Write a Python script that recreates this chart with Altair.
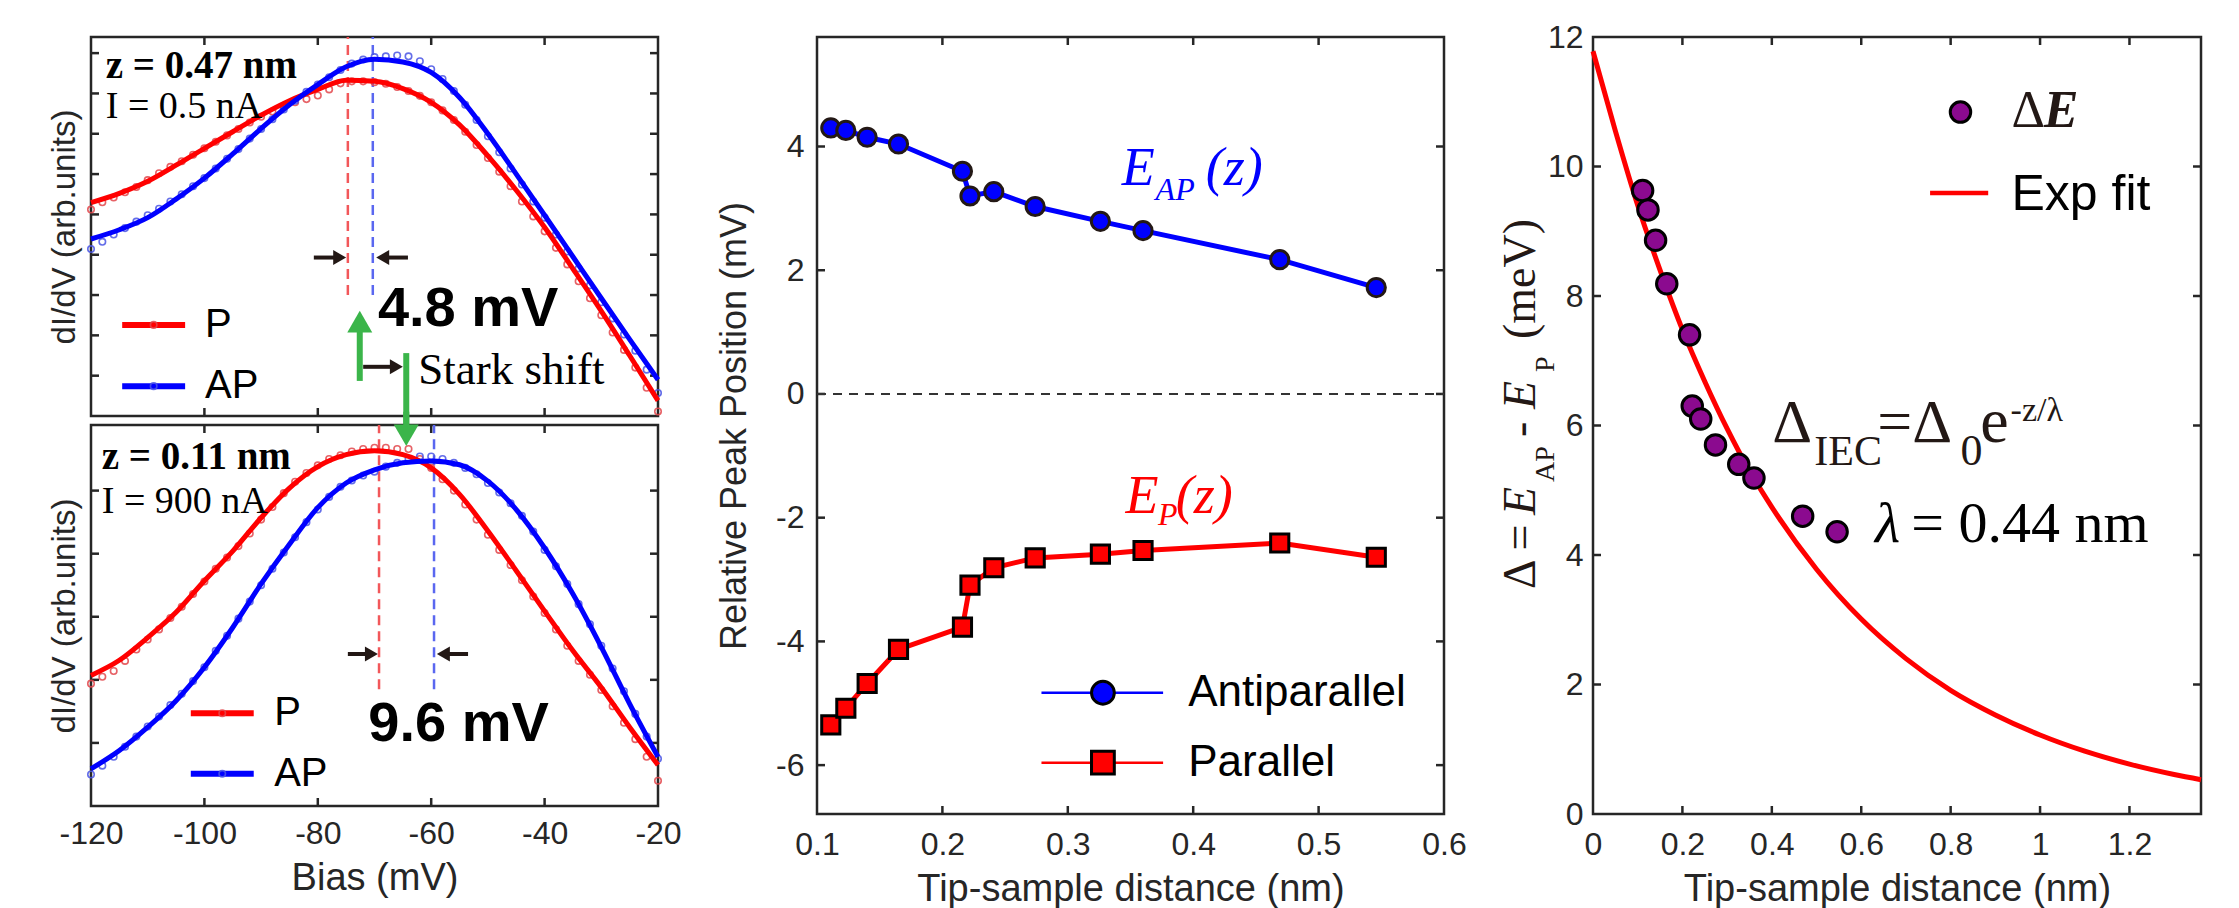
import altair as alt
import pandas as pd

SANS = "Liberation Sans"
SERIF = "Liberation Serif"
DARK = "#262626"
INK = "#231815"
RED = "#ff0000"
BLUE = "#0000ff"
RED_PT = "#e3474c"
BLUE_PT = "#4a55e6"
RED_DASH = "#f2575a"
BLUE_DASH = "#5a67f0"
GREEN = "#3bb54a"
PURPLE = "#8b0a8f"

# ---------------- left panels: dI/dV spectra ----------------
bias_fit = [-120, -115, -110, -105, -100, -95, -90, -85, -80, -75, -70,
            -65, -60, -55, -50, -45, -40, -35, -30, -25, -20]
top_p_fit = [5.29, 5.52, 5.82, 6.22, 6.64, 7.05, 7.46, 7.82, 8.10, 8.33, 8.30,
             8.12, 7.78, 7.22, 6.45, 5.60, 4.68, 3.65, 2.60, 1.50, 0.38]
top_ap_fit = [4.39, 4.62, 4.92, 5.38, 5.90, 6.50, 7.13, 7.72, 8.22, 8.66, 8.85,
              8.78, 8.52, 7.90, 7.00, 6.00, 4.98, 3.95, 2.92, 1.90, 0.90]
bot_p_fit = [2.07, 2.31, 2.67, 3.07, 3.57, 4.04, 4.57, 5.04, 5.38, 5.57, 5.63,
             5.57, 5.36, 4.94, 4.36, 3.73, 3.09, 2.46, 1.88, 1.25, 0.65]
bot_ap_fit = [0.59, 0.88, 1.25, 1.67, 2.20, 2.83, 3.52, 4.15, 4.73, 5.12, 5.33,
              5.44, 5.47, 5.41, 5.15, 4.70, 4.09, 3.36, 2.52, 1.62, 0.78]

bias_pts = [-120, -118, -116, -114, -112, -110, -108, -106, -104, -102,
            -100, -98, -96, -94, -92, -90, -88, -86, -84, -82,
            -80, -78, -76, -74, -72, -70, -68, -66, -64, -62,
            -60, -58, -56, -54, -52, -50, -48, -46, -44, -42,
            -40, -38, -36, -34, -32, -30, -28, -26, -24, -22, -20]
top_p_pts = [5.12, 5.30, 5.42, 5.55, 5.68, 5.85, 6.02, 6.18, 6.32, 6.48,
             6.64, 6.80, 6.96, 7.12, 7.28, 7.42, 7.55, 7.68, 7.78, 7.86,
             7.95, 8.10, 8.25, 8.30, 8.30, 8.28, 8.24, 8.16, 8.06, 7.94,
             7.78, 7.58, 7.34, 7.05, 6.72, 6.40, 6.06, 5.70, 5.32, 4.95,
             4.58, 4.17, 3.76, 3.34, 2.92, 2.50, 2.07, 1.64, 1.20, 0.70, 0.11]
top_ap_pts = [4.14, 4.32, 4.50, 4.66, 4.82, 4.98, 5.14, 5.32, 5.50, 5.70,
              5.90, 6.14, 6.38, 6.62, 6.88, 7.12, 7.36, 7.60, 7.82, 8.04,
              8.22, 8.40, 8.58, 8.74, 8.84, 8.90, 8.92, 8.94, 8.92, 8.80,
              8.60, 8.36, 8.06, 7.72, 7.34, 6.94, 6.54, 6.14, 5.74, 5.32,
              4.92, 4.50, 4.08, 3.66, 3.24, 2.82, 2.42, 2.02, 1.62, 1.15, 0.57]
bot_p_pts = [1.94, 2.05, 2.14, 2.30, 2.48, 2.64, 2.80, 2.98, 3.16, 3.36,
             3.56, 3.76, 3.94, 4.12, 4.32, 4.54, 4.74, 4.96, 5.14, 5.28,
             5.40, 5.50, 5.56, 5.62, 5.66, 5.68, 5.68, 5.66, 5.66, 5.50,
             5.36, 5.18, 5.00, 4.78, 4.54, 4.30, 4.06, 3.82, 3.58, 3.32,
             3.06, 2.80, 2.54, 2.30, 2.08, 1.84, 1.58, 1.32, 1.06, 0.78, 0.40]
bot_ap_pts = [0.50, 0.64, 0.78, 0.94, 1.10, 1.26, 1.42, 1.60, 1.78, 1.98,
              2.20, 2.46, 2.70, 2.97, 3.24, 3.50, 3.76, 4.02, 4.26, 4.50,
              4.70, 4.90, 5.06, 5.16, 5.24, 5.30, 5.38, 5.44, 5.50, 5.54,
              5.54, 5.50, 5.44, 5.36, 5.26, 5.12, 4.97, 4.80, 4.60, 4.35,
              4.06, 3.80, 3.52, 3.20, 2.88, 2.54, 2.18, 1.82, 1.46, 1.10, 0.75]

bias_ticks = [-120, -100, -80, -60, -40, -20]
bias_inner_ticks = [-100, -80, -60, -40]
top_y_ticks = [1, 2, 3, 4, 5, 6, 7, 8, 9]
bot_y_ticks = [1, 2, 3, 4, 5]

# ---------------- middle panel: peak positions ----------------
z_nm = [0.111, 0.123, 0.140, 0.165, 0.216, 0.222, 0.241, 0.274, 0.326, 0.360, 0.469, 0.546]
e_ap = [4.30, 4.26, 4.15, 4.04, 3.60, 3.20, 3.27, 3.03, 2.79, 2.64, 2.17, 1.72]
e_p = [-5.35, -5.08, -4.68, -4.13, -3.77, -3.09, -2.81, -2.65, -2.59, -2.53, -2.41, -2.64]
mid_x_ticks = [0.1, 0.2, 0.3, 0.4, 0.5, 0.6]
mid_y_ticks = [-6, -4, -2, 0, 2, 4]

# ---------------- right panel: splitting ----------------
delta_e = [9.63, 9.33, 8.86, 8.19, 7.40, 6.30, 6.10, 5.70, 5.40, 5.19, 4.60, 4.36]
fit_z = [0, 0.05, 0.1, 0.15, 0.2, 0.25, 0.3, 0.35, 0.4, 0.5, 0.6, 0.7, 0.8,
         0.9, 1.0, 1.1, 1.2, 1.3, 1.36]
fit_delta = [11.78, 10.55, 9.40, 8.40, 7.48, 6.68, 5.95, 5.30, 4.74, 3.78, 3.01,
             2.40, 1.91, 1.53, 1.22, 0.97, 0.77, 0.61, 0.53]
right_x_ticks = [0, 0.2, 0.4, 0.6, 0.8, 1, 1.2]
right_y_ticks = [0, 2, 4, 6, 8, 10, 12]

# ---------------- geometry ----------------
LW, TH, BH = 567, 379, 381
MW, MH = 627, 777
RW, RH = 608, 777
TICK = 8

AX_COMMON = dict(ticks=False, tickSize=0, domain=False, grid=False, labelFont=SANS,
                 titleFont=SANS, labelColor=DARK, titleColor=DARK, titleFontWeight="normal",
                 labelFlush=False, labelOverlap=False, labelBound=False)


def scales(xdom, ydom, xaxis=None, yaxis=None):
    xs = alt.Scale(domain=xdom, nice=False, zero=False)
    ys = alt.Scale(domain=ydom, nice=False, zero=False)

    def X(f):
        return alt.X(f, type="quantitative", scale=xs, axis=xaxis)

    def Y(f):
        return alt.Y(f, type="quantitative", scale=ys, axis=yaxis)
    return X, Y


def bounds_marks(xl, xr, ytop):
    """invisible markers that fix each panel's outer extent in the row layout"""
    d = pd.DataFrame({"a": [0]})
    return [alt.Chart(d).mark_rule(opacity=0, strokeWidth=1).encode(
                x=alt.value(xl), y=alt.value(ytop), y2=alt.value(ytop + 1)),
            alt.Chart(d).mark_rule(opacity=0, strokeWidth=1).encode(
                x=alt.value(xr), y=alt.value(ytop), y2=alt.value(ytop + 1))]


def frame_ticks(xvals, yvals, X, Y, W, H):
    dx = pd.DataFrame({"v": xvals})
    dy = pd.DataFrame({"v": yvals})
    r = dict(color=DARK, strokeWidth=2.5)
    return [
        alt.Chart(dx).mark_rule(**r).encode(x=X("v"), y=alt.value(H - TICK), y2=alt.value(H)),
        alt.Chart(dx).mark_rule(**r).encode(x=X("v"), y=alt.value(0), y2=alt.value(TICK)),
        alt.Chart(dy).mark_rule(**r).encode(y=Y("v"), x=alt.value(0), x2=alt.value(TICK)),
        alt.Chart(dy).mark_rule(**r).encode(y=Y("v"), x=alt.value(W - TICK), x2=alt.value(W)),
    ]


def label(text, x, y, X, Y, size, color=INK, font=SERIF, weight="normal",
          style="normal", align="left", baseline="alphabetic"):
    df = pd.DataFrame({"x": [x], "y": [y], "t": [text]})
    return alt.Chart(df).mark_text(font=font, fontSize=size, fontWeight=weight,
                                   fontStyle=style, color=color, align=align,
                                   baseline=baseline).encode(x=X("x"), y=Y("y"), text="t:N")


def seg(x1, x2, y1, y2, X, Y, color, width, dash=None):
    df = pd.DataFrame({"x": [x1], "x2": [x2], "y": [y1], "y2": [y2]})
    kw = dict(color=color, strokeWidth=width)
    if dash:
        kw["strokeDash"] = dash
    return alt.Chart(df).mark_rule(**kw).encode(x=X("x"), x2="x2:Q", y=Y("y"), y2="y2:Q")


def head(x, y, X, Y, shape, size, color):
    df = pd.DataFrame({"x": [x], "y": [y]})
    return alt.Chart(df).mark_point(shape=shape, filled=True, size=size, color=color,
                                    opacity=1, strokeWidth=0).encode(x=X("x"), y=Y("y"))


def harrow(y, tail, tip, X, Y, pxu, color=INK, width=4, hsize=225):
    length = 0.866 * hsize ** 0.5
    d = 1 if tip > tail else -1
    center = tip - d * (length / 2) / pxu
    base = tip - d * (length - 1) / pxu
    shape = "triangle-right" if d > 0 else "triangle-left"
    return [seg(tail, base, y, y, X, Y, color, width), head(center, y, X, Y, shape, hsize, color)]


def spectra(pts_bias, p_pts, ap_pts, p_fit, ap_fit, X, Y):
    dp = pd.DataFrame({"b": pts_bias, "p": p_pts, "ap": ap_pts})
    df = pd.DataFrame({"b": bias_fit, "p": p_fit, "ap": ap_fit})
    pt = dict(shape="circle", filled=False, size=42, strokeWidth=1.6, opacity=0.85)
    return [
        alt.Chart(dp).mark_point(color=RED_PT, **pt).encode(x=X("b"), y=Y("p")),
        alt.Chart(dp).mark_point(color=BLUE_PT, **pt).encode(x=X("b"), y=Y("ap")),
        alt.Chart(df).mark_line(color=RED, strokeWidth=5, interpolate="monotone").encode(x=X("b"), y=Y("p")),
        alt.Chart(df).mark_line(color=BLUE, strokeWidth=5, interpolate="monotone").encode(x=X("b"), y=Y("ap")),
    ]


def spec_legend(x1, x2, ytop, ybot, xtext, X, Y):
    out = []
    pt = dict(shape="circle", filled=False, size=42, strokeWidth=1.6, opacity=0.85)
    for yy, col, pcol, txt in [(ytop, RED, RED_PT, "P"), (ybot, BLUE, BLUE_PT, "AP")]:
        out.append(seg(x1, x2, yy, yy, X, Y, col, 6))
        d = pd.DataFrame({"x": [(x1 + x2) / 2], "y": [yy]})
        out.append(alt.Chart(d).mark_point(color=pcol, **pt).encode(x=X("x"), y=Y("y")))
        out.append(label(txt, xtext, yy, X, Y, 40, color="#000000", font=SANS, baseline="middle"))
    return out


PXB = LW / 100.0  # px per mV

# ---------- top-left ----------
ytitle_axis = alt.Axis(title="dI/dV (arb.units)", labels=False, titleFontSize=33,
                       titlePadding=10, **AX_COMMON)
Xt, Yt = scales([-120, -20], [0, 9.4], None, ytitle_axis)
PXT = TH / 9.4
top_layers = []
top_layers += frame_ticks(bias_inner_ticks, top_y_ticks, Xt, Yt, LW, TH)
top_layers += bounds_marks(-60, LW + 30, -25)
top_layers += [seg(-74.7, -74.7, 3.0, 9.4, Xt, Yt, RED_DASH, 2.5, [10, 6]),
               seg(-70.3, -70.3, 3.0, 9.4, Xt, Yt, BLUE_DASH, 2.5, [10, 6])]
top_layers += spectra(bias_pts, top_p_pts, top_ap_pts, top_p_fit, top_ap_fit, Xt, Yt)
top_layers += harrow(3.93, -80.7, -75.0, Xt, Yt, PXB)
top_layers += harrow(3.93, -64.1, -69.7, Xt, Yt, PXB)
top_layers += [label("z = 0.47 nm", -117.4, 8.39, Xt, Yt, 39, color="#000000", weight="bold"),
               label("I = 0.5 nA", -117.4, 7.39, Xt, Yt, 38, color="#000000"),
               label("4.8 mV", -69.4, 2.23, Xt, Yt, 56, color="#000000", font=SANS, weight="bold"),
               label("Stark shift", -62.3, 0.79, Xt, Yt, 45, color="#000000")]
top_layers += spec_legend(-114.5, -103.4, 2.26, 0.74, -99.9, Xt, Yt)
# Stark-shift arrows
top_layers += [seg(-72.6, -72.6, 0.87, 2.10, Xt, Yt, GREEN, 6),
               head(-72.6, 2.61 - 10.8 / PXT, Xt, Yt, "triangle-up", 625, GREEN)]
top_layers += harrow(1.22, -72.0, -65.0, Xt, Yt, PXB)
top_layers += [seg(-64.4, -64.4, 1.56, -0.25, Xt, Yt, GREEN, 6)]
top = alt.layer(*top_layers).properties(width=LW, height=TH)

# ---------- bottom-left ----------
bias_axis = alt.Axis(values=bias_ticks, title="Bias (mV)", labelExpr="'' + datum.value",
                     labelFontSize=32, labelPadding=12, titleFontSize=38, titlePadding=10,
                     **AX_COMMON)
ytitle_axis2 = alt.Axis(title="dI/dV (arb.units)", labels=False, titleFontSize=33,
                        titlePadding=10, **AX_COMMON)
Xb, Yb = scales([-120, -20], [0, 6.04], bias_axis, ytitle_axis2)
PXBOT = BH / 6.04
bot_layers = []
bot_layers += frame_ticks(bias_inner_ticks, bot_y_ticks, Xb, Yb, LW, BH)
bot_layers += [seg(-69.2, -69.2, 1.85, 6.04, Xb, Yb, RED_DASH, 2.5, [10, 6]),
               seg(-59.5, -59.5, 1.85, 6.04, Xb, Yb, BLUE_DASH, 2.5, [10, 6])]
bot_layers += spectra(bias_pts, bot_p_pts, bot_ap_pts, bot_p_fit, bot_ap_fit, Xb, Yb)
bot_layers += harrow(2.41, -74.7, -69.4, Xb, Yb, PXB)
bot_layers += harrow(2.41, -53.5, -59.0, Xb, Yb, PXB)
bot_layers += [label("z = 0.11 nm", -118.1, 5.34, Xb, Yb, 39, color="#000000", weight="bold"),
               label("I = 900 nA", -118.1, 4.64, Xb, Yb, 38, color="#000000"),
               label("9.6 mV", -71.1, 1.03, Xb, Yb, 56, color="#000000", font=SANS, weight="bold")]
bot_layers += spec_legend(-102.4, -91.3, 1.47, 0.51, -87.7, Xb, Yb)
bot_layers += [seg(-64.4, -64.4, 6.25, 5.95, Xb, Yb, GREEN, 6),
               head(-64.4, (805 - 445) / PXBOT + 10.8 / PXBOT, Xb, Yb, "triangle-down", 625, GREEN)]
bottom = alt.layer(*bot_layers).properties(width=LW, height=BH)

left = alt.vconcat(top, bottom, spacing=9, bounds="flush")

# ---------- middle ----------
mx_axis = alt.Axis(values=mid_x_ticks, title="Tip-sample distance (nm)", labelExpr="'' + datum.value",
                   labelFontSize=32, labelPadding=15, titleFontSize=38, titlePadding=10, **AX_COMMON)
my_axis = alt.Axis(values=mid_y_ticks, title="Relative Peak Position (mV)", labelExpr="'' + datum.value",
                   labelFontSize=32, labelPadding=13, titleFontSize=36, titlePadding=22, **AX_COMMON)
Xm, Ym = scales([0.1, 0.6], [-6.79, 5.77], mx_axis, my_axis)
dm = pd.DataFrame({"z": z_nm, "ap": e_ap, "p": e_p})
mid_layers = []
mid_layers += frame_ticks([0.2, 0.3, 0.4, 0.5], mid_y_ticks, Xm, Ym, MW, MH)
mid_layers += bounds_marks(-115, MW + 30, -25)
mid_layers += [alt.Chart(pd.DataFrame({"y": [0]})).mark_rule(color="#333333", strokeWidth=2, strokeDash=[9, 7])
               .encode(y=Ym("y"), x=alt.value(0), x2=alt.value(MW))]
mid_layers += [
    alt.Chart(dm).mark_line(color=BLUE, strokeWidth=5).encode(x=Xm("z"), y=Ym("ap")),
    alt.Chart(dm).mark_line(color=RED, strokeWidth=5).encode(x=Xm("z"), y=Ym("p")),
    alt.Chart(dm).mark_point(shape="circle", filled=True, size=330, color=BLUE, stroke=INK,
                             strokeWidth=3, opacity=1).encode(x=Xm("z"), y=Ym("ap")),
    alt.Chart(dm).mark_point(shape="square", filled=True, size=330, color=RED, stroke="#000000",
                             strokeWidth=3, opacity=1).encode(x=Xm("z"), y=Ym("p")),
]
mid_layers += [label("E", 0.343, 3.38, Xm, Ym, 54, color=BLUE, style="italic"),
               label("AP", 0.370, 3.13, Xm, Ym, 32, color=BLUE, style="italic"),
               label("(z)", 0.410, 3.38, Xm, Ym, 54, color=BLUE, style="italic"),
               label("E", 0.346, -1.92, Xm, Ym, 54, color=RED, style="italic"),
               label("P", 0.372, -2.12, Xm, Ym, 32, color=RED, style="italic"),
               label("(z)", 0.386, -1.92, Xm, Ym, 54, color=RED, style="italic")]
# legend
for yy, col, shp in [(-4.83, BLUE, "circle"), (-5.96, RED, "square")]:
    mid_layers.append(seg(0.279, 0.376, yy, yy, Xm, Ym, col, 2.5))
    d = pd.DataFrame({"x": [0.328], "y": [yy]})
    mid_layers.append(alt.Chart(d).mark_point(shape=shp, filled=True, size=520, color=col,
                                              stroke="#000000", strokeWidth=3, opacity=1)
                      .encode(x=Xm("x"), y=Ym("y")))
mid_layers += [label("Antiparallel", 0.396, -4.83, Xm, Ym, 44, color="#000000", font=SANS, baseline="middle"),
               label("Parallel", 0.396, -5.96, Xm, Ym, 44, color="#000000", font=SANS, baseline="middle")]
middle = alt.layer(*mid_layers).properties(width=MW, height=MH)

# ---------- right ----------
rx_axis = alt.Axis(values=right_x_ticks, title="Tip-sample distance (nm)", labelExpr="'' + datum.value",
                   labelFontSize=32, labelPadding=15, titleFontSize=38, titlePadding=10, **AX_COMMON)
ry_axis = alt.Axis(values=right_y_ticks, title=None, labelExpr="'' + datum.value",
                   labelFontSize=32, labelPadding=10, **AX_COMMON)
Xr, Yr = scales([0, 1.36], [0, 12], rx_axis, ry_axis)
dr = pd.DataFrame({"z": z_nm, "d": delta_e})
dfit = pd.DataFrame({"z": fit_z, "d": fit_delta})
right_layers = []
right_layers += frame_ticks([0.2, 0.4, 0.6, 0.8, 1, 1.2], [2, 4, 6, 8, 10], Xr, Yr, RW, RH)
right_layers += bounds_marks(-105, RW + 10, -25)
right_layers += [
    alt.Chart(dfit).mark_line(color=RED, strokeWidth=5, interpolate="monotone").encode(x=Xr("z"), y=Yr("d")),
    alt.Chart(dr).mark_point(shape="circle", filled=True, size=420, color=PURPLE, stroke="#000000",
                             strokeWidth=3, opacity=1).encode(x=Xr("z"), y=Yr("d")),
]
d_leg = pd.DataFrame({"x": [0.822], "y": [10.84]})
right_layers += [
    alt.Chart(d_leg).mark_point(shape="circle", filled=True, size=420, color=PURPLE, stroke="#000000",
                                strokeWidth=3, opacity=1).encode(x=Xr("x"), y=Yr("y")),
    label("\u0394", 0.936, 10.61, Xr, Yr, 52, color=INK),
    label("E", 1.008, 10.61, Xr, Yr, 52, color=INK, weight="bold", style="italic"),
    seg(0.754, 0.884, 9.59, 9.59, Xr, Yr, RED, 4.5),
    label("Exp fit", 0.936, 9.33, Xr, Yr, 50, color="#000000", font=SANS),
    # formula
    label("\u0394", 0.401, 5.75, Xr, Yr, 62, color=INK),
    label("IEC", 0.495, 5.39, Xr, Yr, 42, color=INK),
    label("=\u0394", 0.636, 5.75, Xr, Yr, 62, color=INK),
    label("0", 0.822, 5.39, Xr, Yr, 44, color=INK),
    label("e", 0.866, 5.75, Xr, Yr, 64, color=INK),
    label("-z/\u03bb", 0.934, 6.07, Xr, Yr, 34, color=INK),
    label("\u03bb", 0.631, 4.20, Xr, Yr, 58, color="#000000", style="italic"),
    label("= 0.44 nm", 0.712, 4.20, Xr, Yr, 58, color="#000000"),
]
# rotated y title built from pieces (main baseline / subscript baseline)
title_parts = [("\u0394 =", -58, 552, 46, "normal"), ("E", -58, 478, 46, "italic"),
               ("AP", -39, 445, 28, "normal"), ("-", -58, 400, 46, "normal"),
               ("E", -58, 372, 46, "italic"), ("P", -39, 335, 28, "normal"),
               ("(meV)", -58, 302, 46, "normal")]
for txt, px, py, fs, st in title_parts:
    right_layers.append(
        alt.Chart(pd.DataFrame({"t": [txt]})).mark_text(
            font=SERIF, fontSize=fs, fontStyle=st, color=INK, angle=270,
            align="left", baseline="alphabetic").encode(
            x=alt.value(px), y=alt.value(py), text="t:N"))
right = alt.layer(*right_layers).properties(width=RW, height=RH)

chart = alt.hconcat(left, middle, right, spacing=10).configure_view(
    stroke=DARK, strokeWidth=2.5).properties(
    padding={"left": 21, "top": 2, "right": 5, "bottom": 5}, background="white")

chart.save("out.html", embed_options={"renderer": "svg", "actions": False})
